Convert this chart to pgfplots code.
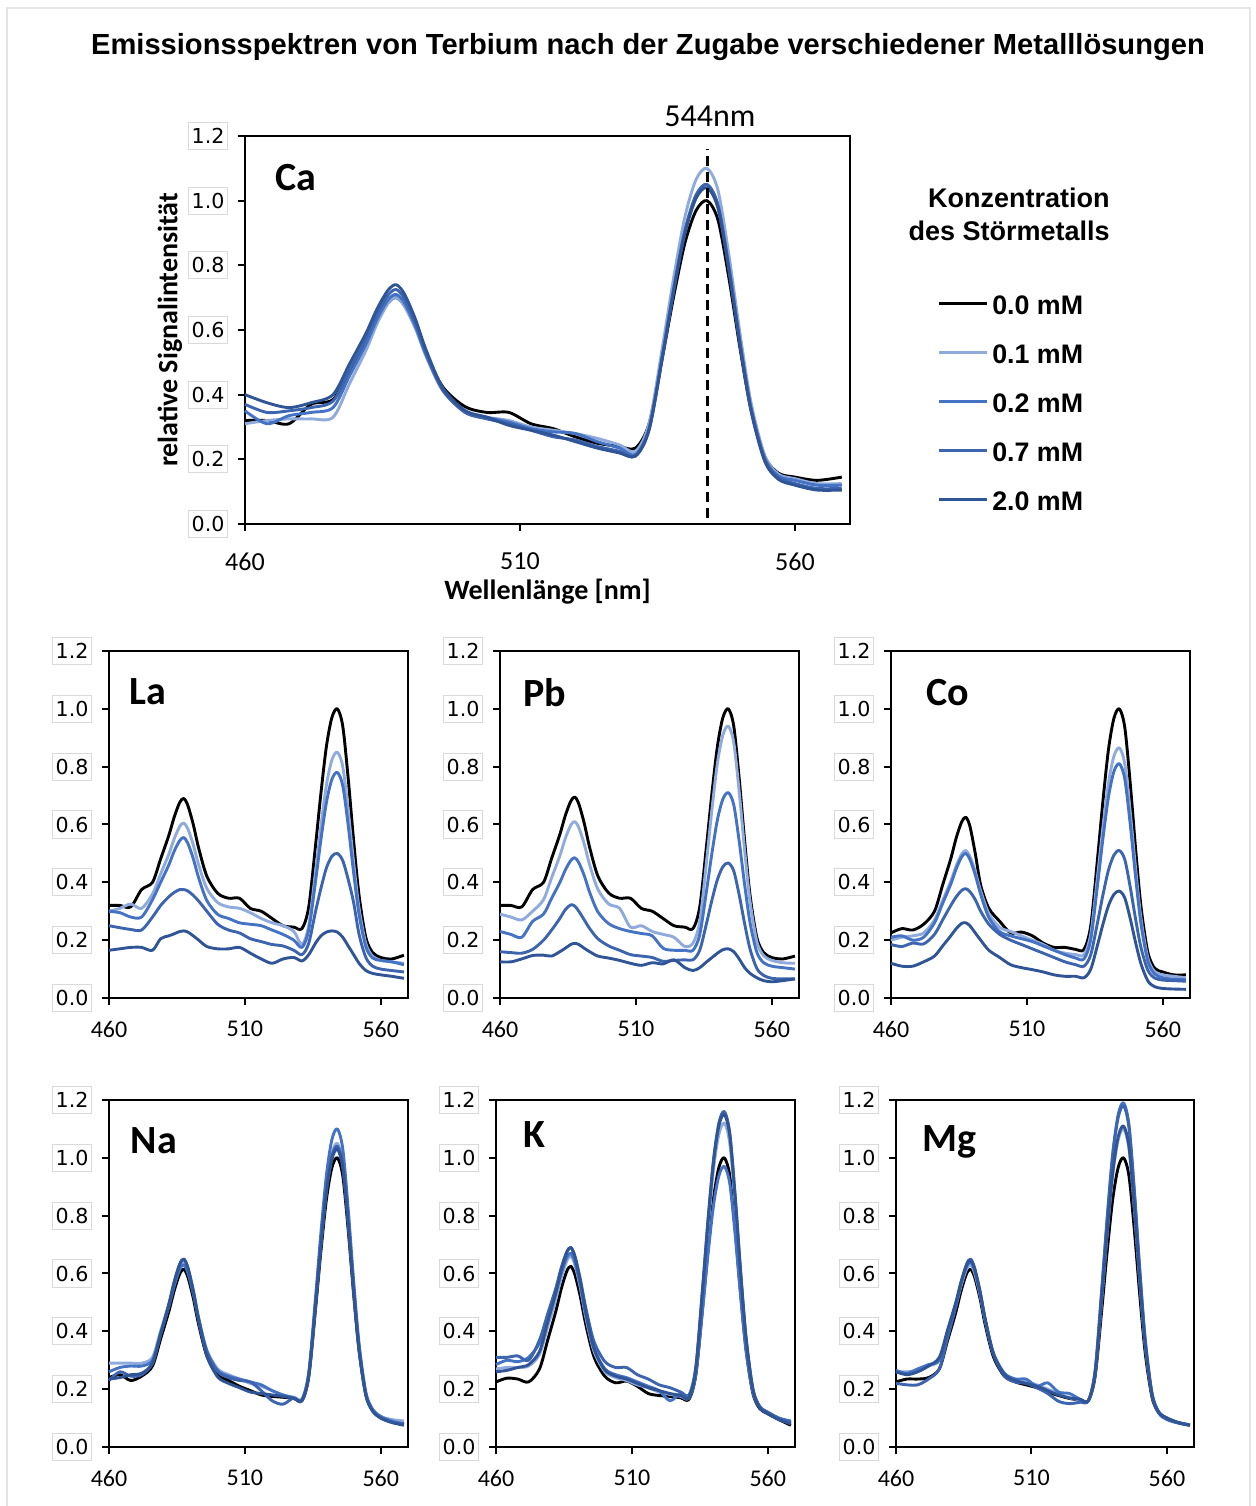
\documentclass[border=0pt]{standalone}
\usepackage{fontspec}
\setmainfont{Liberation Sans}
\newfontfamily\carlito{Carlito}
\newfontfamily\dejavu{DejaVu Sans}
\usepackage{pgfplots}
\usepackage{pgfplotstable}
\pgfplotsset{compat=1.18}

\definecolor{cA}{RGB}{0,0,0}
\definecolor{cB}{RGB}{143,170,220}
\definecolor{cC}{RGB}{68,114,196}
\definecolor{cD}{RGB}{60,100,175}
\definecolor{cE}{RGB}{47,85,151}

\pgfplotstableread{
x a b c d e
460 0.32 0.31 0.35 0.37 0.40
464 0.32 0.32 0.31 0.345 0.375
468 0.31 0.325 0.335 0.35 0.36
472 0.37 0.325 0.345 0.36 0.375
476 0.385 0.33 0.36 0.38 0.40
479 0.473 0.434 0.458 0.477 0.495
482 0.561 0.537 0.556 0.573 0.59
484 0.631 0.619 0.633 0.649 0.665
486 0.684 0.682 0.693 0.708 0.723
487.5 0.70 0.70 0.71 0.725 0.74
489 0.675 0.674 0.683 0.697 0.711
491 0.608 0.604 0.611 0.621 0.633
493 0.523 0.515 0.52 0.525 0.535
496 0.423 0.411 0.414 0.413 0.42
500 0.363 0.349 0.349 0.345 0.351
504 0.345 0.33 0.33 0.325 0.33
508 0.345 0.32 0.315 0.31 0.305
512 0.31 0.30 0.295 0.29 0.29
516 0.295 0.29 0.285 0.27 0.275
520 0.27 0.28 0.28 0.26 0.255
524 0.25 0.265 0.255 0.24 0.235
528 0.24 0.245 0.235 0.225 0.22
531 0.235 0.225 0.215 0.21 0.21
533.5 0.312 0.313 0.299 0.294 0.293
536 0.526 0.558 0.532 0.529 0.525
538 0.709 0.768 0.733 0.731 0.725
540 0.870 0.951 0.908 0.907 0.899
542 0.969 1.065 1.017 1.016 1.007
544 1.00 1.10 1.05 1.05 1.04
546 0.940 1.032 0.986 0.985 0.976
548 0.759 0.830 0.792 0.791 0.782
550 0.544 0.589 0.562 0.56 0.552
552 0.355 0.376 0.36 0.356 0.35
554.5 0.209 0.212 0.204 0.199 0.194
557 0.157 0.154 0.148 0.144 0.138
560 0.145 0.14 0.135 0.125 0.12
564 0.135 0.125 0.12 0.11 0.105
568.5 0.145 0.125 0.12 0.11 0.105
}\tabCa

\pgfplotstableread{
x a b c d e
460 0.32 0.30 0.30 0.25 0.165
464 0.32 0.31 0.295 0.243 0.17
468 0.315 0.325 0.28 0.237 0.175
472 0.375 0.31 0.28 0.235 0.175
476 0.40 0.36 0.34 0.28 0.165
479 0.481 0.429 0.40 0.32 0.205
482 0.562 0.497 0.46 0.35 0.215
484 0.626 0.551 0.508 0.365 0.222
486 0.676 0.593 0.544 0.375 0.23
487.5 0.69 0.605 0.555 0.375 0.232
489 0.666 0.585 0.535 0.37 0.228
491 0.60 0.53 0.482 0.355 0.215
493 0.518 0.46 0.415 0.335 0.20
496 0.421 0.379 0.337 0.30 0.178
500 0.362 0.33 0.289 0.255 0.17
504 0.345 0.315 0.275 0.235 0.17
508 0.345 0.31 0.26 0.225 0.175
512 0.31 0.295 0.255 0.205 0.155
516 0.30 0.275 0.25 0.195 0.135
520 0.275 0.26 0.235 0.185 0.12
524 0.25 0.25 0.22 0.18 0.135
528 0.245 0.23 0.20 0.165 0.14
531 0.24 0.185 0.175 0.15 0.128
533.5 0.316 0.252 0.236 0.19 0.15
536 0.529 0.438 0.405 0.30 0.19
538 0.711 0.597 0.55 0.38 0.215
540 0.871 0.737 0.677 0.45 0.228
542 0.97 0.823 0.756 0.49 0.232
544 1.00 0.85 0.78 0.50 0.228
546 0.94 0.80 0.734 0.475 0.21
548 0.759 0.648 0.597 0.41 0.18
550 0.544 0.468 0.433 0.33 0.15
552 0.355 0.31 0.289 0.22 0.12
554.5 0.209 0.188 0.177 0.14 0.095
557 0.157 0.144 0.138 0.11 0.085
560 0.14 0.13 0.13 0.10 0.08
564 0.135 0.125 0.125 0.095 0.075
568.5 0.148 0.12 0.115 0.09 0.068
}\tabLa

\pgfplotstableread{
x a b c d e
460 0.32 0.29 0.23 0.16 0.125
464 0.32 0.28 0.22 0.157 0.125
468 0.315 0.27 0.21 0.155 0.135
472 0.375 0.30 0.265 0.168 0.147
476 0.40 0.34 0.29 0.20 0.148
479 0.483 0.416 0.345 0.235 0.145
482 0.565 0.491 0.399 0.275 0.16
484 0.63 0.551 0.442 0.305 0.172
486 0.68 0.597 0.475 0.322 0.185
487.5 0.695 0.61 0.485 0.318 0.189
489 0.671 0.589 0.468 0.30 0.185
491 0.604 0.532 0.423 0.27 0.172
493 0.52 0.46 0.365 0.24 0.16
496 0.422 0.376 0.298 0.205 0.145
500 0.363 0.325 0.257 0.18 0.138
504 0.345 0.31 0.24 0.165 0.13
508 0.345 0.245 0.23 0.15 0.12
512 0.31 0.25 0.223 0.145 0.113
516 0.30 0.23 0.215 0.14 0.122
520 0.275 0.22 0.172 0.127 0.118
524 0.25 0.21 0.165 0.13 0.132
528 0.245 0.178 0.165 0.132 0.105
531 0.24 0.19 0.165 0.132 0.095
533.5 0.316 0.265 0.22 0.166 0.105
536 0.529 0.475 0.372 0.259 0.125
538 0.711 0.655 0.503 0.34 0.14
540 0.871 0.813 0.617 0.41 0.155
542 0.97 0.91 0.688 0.454 0.167
544 1.00 0.94 0.71 0.467 0.17
546 0.94 0.883 0.668 0.439 0.16
548 0.759 0.713 0.542 0.356 0.135
550 0.544 0.511 0.392 0.257 0.105
552 0.355 0.333 0.26 0.169 0.085
554.5 0.209 0.195 0.158 0.102 0.07
557 0.157 0.146 0.122 0.078 0.06
560 0.14 0.13 0.11 0.068 0.056
564 0.135 0.122 0.105 0.066 0.06
568.5 0.145 0.12 0.10 0.066 0.066
}\tabPb

\pgfplotstableread{
x a b c d e
460 0.225 0.20 0.21 0.185 0.12
464 0.24 0.21 0.215 0.178 0.11
468 0.235 0.215 0.20 0.19 0.11
472 0.255 0.225 0.21 0.187 0.125
476 0.30 0.27 0.26 0.22 0.145
479 0.391 0.337 0.327 0.27 0.18
482 0.482 0.404 0.394 0.32 0.215
484 0.554 0.457 0.447 0.35 0.24
486 0.609 0.498 0.488 0.372 0.258
487.5 0.625 0.51 0.50 0.378 0.26
489 0.595 0.49 0.48 0.368 0.25
491 0.50 0.437 0.426 0.34 0.225
493 0.39 0.37 0.358 0.30 0.20
496 0.31 0.292 0.278 0.255 0.165
500 0.265 0.244 0.229 0.22 0.14
504 0.225 0.23 0.215 0.20 0.115
508 0.228 0.215 0.205 0.185 0.105
512 0.215 0.20 0.195 0.17 0.098
516 0.19 0.185 0.18 0.155 0.09
520 0.175 0.165 0.165 0.14 0.08
524 0.175 0.155 0.15 0.125 0.075
528 0.168 0.15 0.138 0.115 0.075
531 0.168 0.15 0.135 0.11 0.07
533.5 0.251 0.222 0.203 0.15 0.10
536 0.484 0.422 0.392 0.262 0.184
538 0.684 0.593 0.554 0.358 0.256
540 0.859 0.743 0.695 0.442 0.319
542 0.967 0.836 0.783 0.494 0.358
544 1.00 0.865 0.81 0.51 0.37
546 0.936 0.81 0.758 0.479 0.346
548 0.744 0.644 0.602 0.384 0.275
550 0.515 0.446 0.417 0.272 0.191
552 0.314 0.273 0.254 0.173 0.117
554.5 0.158 0.138 0.127 0.096 0.059
557 0.103 0.091 0.083 0.069 0.039
560 0.09 0.08 0.07 0.062 0.033
564 0.08 0.075 0.065 0.06 0.031
568.5 0.08 0.07 0.063 0.058 0.03
}\tabCo

\pgfplotstableread{
x a b c d e
460 0.24 0.29 0.26 0.23 0.235
464 0.25 0.29 0.275 0.26 0.24
468 0.23 0.29 0.28 0.245 0.25
472 0.245 0.29 0.28 0.25 0.255
476 0.28 0.31 0.30 0.29 0.29
479 0.374 0.402 0.392 0.391 0.391
482 0.468 0.495 0.485 0.492 0.492
484 0.541 0.567 0.557 0.571 0.571
486 0.598 0.624 0.614 0.632 0.632
487.5 0.615 0.64 0.63 0.65 0.65
489 0.588 0.613 0.603 0.621 0.62
491 0.515 0.539 0.53 0.543 0.538
493 0.423 0.445 0.438 0.445 0.435
496 0.315 0.336 0.33 0.33 0.315
500 0.249 0.27 0.264 0.261 0.242
504 0.23 0.25 0.245 0.24 0.22
508 0.21 0.235 0.235 0.23 0.205
512 0.195 0.22 0.225 0.225 0.19
516 0.18 0.21 0.215 0.195 0.185
520 0.175 0.195 0.195 0.16 0.18
524 0.172 0.18 0.18 0.148 0.175
528 0.168 0.172 0.17 0.17 0.168
531 0.16 0.165 0.165 0.16 0.16
533.5 0.244 0.254 0.259 0.248 0.247
536 0.479 0.501 0.52 0.494 0.491
538 0.681 0.714 0.745 0.706 0.699
540 0.857 0.90 0.941 0.89 0.882
542 0.966 1.015 1.063 1.005 0.995
544 1.00 1.05 1.10 1.04 1.03
546 0.938 0.984 1.031 0.975 0.965
548 0.751 0.787 0.823 0.778 0.771
550 0.528 0.552 0.575 0.544 0.54
552 0.333 0.345 0.358 0.339 0.336
554.5 0.181 0.185 0.189 0.18 0.179
557 0.128 0.129 0.13 0.124 0.124
560 0.105 0.105 0.105 0.10 0.10
564 0.09 0.095 0.09 0.085 0.085
568.5 0.08 0.09 0.08 0.078 0.075
}\tabNa

\pgfplotstableread{
x a b c d e
460 0.225 0.27 0.285 0.31 0.26
464 0.238 0.275 0.30 0.31 0.265
468 0.235 0.275 0.295 0.315 0.275
472 0.225 0.28 0.31 0.30 0.285
476 0.27 0.32 0.36 0.37 0.33
479 0.369 0.415 0.447 0.46 0.431
482 0.469 0.51 0.534 0.549 0.532
484 0.547 0.585 0.602 0.62 0.611
486 0.607 0.643 0.655 0.674 0.672
487.5 0.625 0.66 0.67 0.69 0.69
489 0.597 0.631 0.641 0.661 0.659
491 0.521 0.551 0.561 0.582 0.574
493 0.425 0.45 0.46 0.483 0.468
496 0.313 0.332 0.342 0.366 0.343
500 0.245 0.261 0.271 0.296 0.267
504 0.222 0.24 0.25 0.275 0.245
508 0.228 0.23 0.24 0.275 0.235
512 0.21 0.215 0.225 0.25 0.22
516 0.185 0.205 0.21 0.235 0.205
520 0.178 0.19 0.195 0.215 0.195
524 0.175 0.182 0.16 0.205 0.185
528 0.17 0.175 0.185 0.19 0.178
531 0.165 0.17 0.17 0.18 0.17
533.5 0.249 0.265 0.25 0.278 0.268
536 0.482 0.531 0.474 0.552 0.542
538 0.683 0.759 0.666 0.788 0.778
540 0.858 0.959 0.834 0.993 0.983
542 0.967 1.082 0.938 1.121 1.111
544 1.00 1.12 0.97 1.16 1.15
546 0.938 1.05 0.911 1.087 1.078
548 0.752 0.84 0.732 0.869 0.86
550 0.531 0.59 0.52 0.609 0.601
552 0.336 0.37 0.333 0.38 0.374
554.5 0.186 0.20 0.188 0.203 0.198
557 0.133 0.14 0.137 0.141 0.136
560 0.115 0.12 0.12 0.12 0.115
564 0.095 0.10 0.10 0.10 0.095
568.5 0.075 0.085 0.09 0.085 0.08
}\tabK

\pgfplotstableread{
x a b c d e
460 0.225 0.26 0.265 0.22 0.26
464 0.235 0.26 0.255 0.215 0.25
468 0.235 0.265 0.27 0.215 0.26
472 0.24 0.28 0.285 0.235 0.28
476 0.27 0.30 0.30 0.27 0.31
479 0.367 0.392 0.395 0.376 0.404
482 0.463 0.485 0.49 0.483 0.498
484 0.539 0.557 0.565 0.566 0.571
486 0.598 0.614 0.623 0.631 0.628
487.5 0.615 0.63 0.64 0.65 0.645
489 0.588 0.602 0.612 0.62 0.616
491 0.514 0.527 0.535 0.54 0.537
493 0.42 0.433 0.438 0.438 0.438
496 0.311 0.322 0.324 0.319 0.321
500 0.245 0.255 0.255 0.246 0.251
504 0.225 0.235 0.235 0.225 0.23
508 0.215 0.225 0.235 0.22 0.22
512 0.205 0.215 0.21 0.205 0.21
516 0.19 0.20 0.222 0.185 0.195
520 0.178 0.185 0.19 0.158 0.18
524 0.168 0.17 0.185 0.15 0.17
528 0.162 0.163 0.165 0.155 0.165
531 0.16 0.16 0.16 0.16 0.16
533.5 0.244 0.254 0.263 0.262 0.255
536 0.479 0.517 0.551 0.548 0.521
538 0.681 0.743 0.799 0.792 0.749
540 0.857 0.94 1.015 1.007 0.949
542 0.966 1.062 1.149 1.139 1.072
544 1.00 1.10 1.19 1.18 1.11
546 0.937 1.03 1.114 1.104 1.039
548 0.748 0.82 0.885 0.876 0.827
550 0.523 0.57 0.612 0.605 0.575
552 0.325 0.35 0.373 0.366 0.353
554.5 0.172 0.18 0.187 0.182 0.181
557 0.118 0.12 0.122 0.117 0.12
560 0.10 0.10 0.10 0.095 0.10
564 0.085 0.085 0.085 0.083 0.085
568.5 0.075 0.077 0.077 0.075 0.075
}\tabMg

\pgfplotsset{
  spec/.style={
    scale only axis,
    clip=false,
    xmin=460, xmax=570, ymin=0, ymax=1.2,
    xtick={460,510,560},
    xticklabels={460,510,560},
    ytick={0,0.2,0.4,0.6,0.8,1.0,1.2},
    yticklabels={0.0,0.2,0.4,0.6,0.8,1.0,1.2},
    tick pos=left,
    tick align=outside,
    major tick length=3.5pt,
    every tick/.style={black, line width=1pt},
    axis line style={black, line width=1pt},
    yticklabel style={font=\dejavu\fontsize{10.3}{12}\selectfont, draw=gray!30, line width=0.5pt,
      inner xsep=1.5pt, inner ysep=3pt, text depth=0pt, xshift=-5pt},
    xticklabel style={font=\carlito\fontsize{12}{14}\selectfont, yshift=-4.5pt},
    every axis plot/.append style={line width=1.45pt, smooth, line join=round},
  },
  small/.style={spec, width=149.5pt, height=173.5pt, anchor=south west},
}
\newcommand{\fiveplots}[1]{%
  \addplot[cA] table[x=x,y=a]{#1};
  \addplot[cB] table[x=x,y=b]{#1};
  \addplot[cC] table[x=x,y=c]{#1};
  \addplot[cD] table[x=x,y=d]{#1};
  \addplot[cE] table[x=x,y=e]{#1};
}
\newcommand{\panellabel}[3]{\node[font=\carlito\bfseries\fontsize{20}{24}\selectfont] at (rel axis cs:#1,#2) {#3};}

\begin{document}
\begin{tikzpicture}
\path[use as bounding box] (0,0) rectangle (628pt,753pt);
\draw[gray!20, line width=1pt] (3.5pt,0) -- (3.5pt,749pt) -- (625pt,749pt) -- (625pt,0);
\node[font=\bfseries\fontsize{14.55}{17}\selectfont, anchor=base] at (324pt,725.5pt)
  {Emissionsspektren von Terbium nach der Zugabe verschiedener Metalllösungen};

\begin{axis}[spec, at={(122.5pt,491pt)}, anchor=south west, width=302.5pt, height=194pt,
  xticklabel style={font=\carlito\fontsize{13}{15}\selectfont, yshift=-3pt},
  xlabel={Wellenlänge [nm]}, ylabel={relative Signalintensität},
  xlabel style={font=\carlito\bfseries\fontsize{14}{17}\selectfont, at={(axis description cs:0.5,-0.175)}, anchor=center},
  ylabel style={font=\carlito\bfseries\fontsize{14}{17}\selectfont, at={(axis description cs:-0.124,0.5)}, anchor=center},
  legend entries={0.0 mM, 0.1 mM, 0.2 mM, 0.7 mM, 2.0 mM},
  legend style={at={(axis description cs:1.1438,0.3119)}, anchor=west, draw=none, fill=none,
    font=\bfseries\fontsize{13.4}{16}\selectfont, inner sep=0pt, row sep=14.9pt, column sep=2pt,
    nodes={inner sep=0pt, text height=9.6pt, text depth=0pt}},
  legend cell align=left,
  legend image code/.code={\draw[#1, line width=1.45pt] (0pt,0.1ex) -- (24pt,0.1ex);},
]
\fiveplots{\tabCa}
\addplot[black, sharp plot, dashed, line width=1.5pt, dash pattern=on 5pt off 3pt, forget plot] coordinates {(544,0.02) (544,1.16)};
\node[font=\carlito\fontsize{16}{19}\selectfont, anchor=base] at (axis cs:544,1.2) [xshift=1.5pt, yshift=4.5pt] {544nm};
\panellabel{0.084}{0.892}{Ca}
\end{axis}
\node[font=\bfseries\fontsize{13.5}{16}\selectfont, anchor=base east, inner sep=0pt] at (555pt,649pt) {Konzentration};
\node[font=\bfseries\fontsize{13.5}{16}\selectfont, anchor=base east, inner sep=0pt] at (555pt,632.5pt) {des Störmetalls};

\begin{axis}[small, at={(54.5pt,254pt)}]
\fiveplots{\tabLa}
\panellabel{0.13}{0.882}{La}
\end{axis}
\begin{axis}[small, at={(250pt,254pt)}]
\fiveplots{\tabPb}
\panellabel{0.15}{0.88}{Pb}
\end{axis}
\begin{axis}[small, at={(445.5pt,254pt)}]
\fiveplots{\tabCo}
\panellabel{0.19}{0.88}{Co}
\end{axis}
\begin{axis}[small, at={(54.5pt,29.5pt)}]
\fiveplots{\tabNa}
\panellabel{0.15}{0.882}{Na}
\end{axis}
\begin{axis}[small, at={(248pt,29.5pt)}]
\fiveplots{\tabK}
\panellabel{0.13}{0.90}{K}
\end{axis}
\begin{axis}[small, at={(448pt,29.5pt)}, width=149pt]
\fiveplots{\tabMg}
\panellabel{0.18}{0.88}{Mg}
\end{axis}
\end{tikzpicture}
\end{document}
